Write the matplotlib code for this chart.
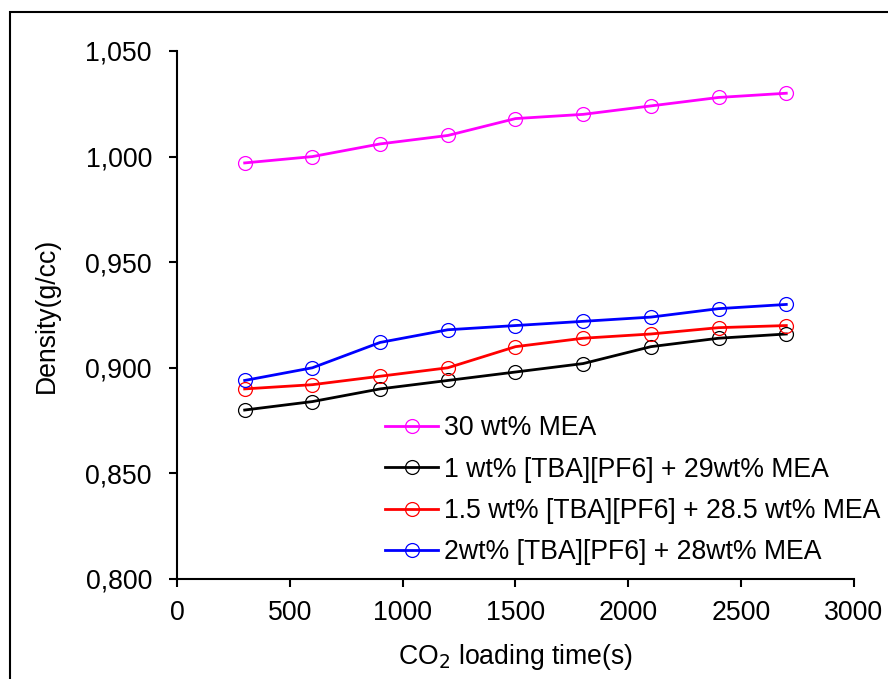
import matplotlib
matplotlib.use("Agg")
import matplotlib.pyplot as plt
from matplotlib.patches import Rectangle
from matplotlib.ticker import FuncFormatter, MultipleLocator

plt.rcParams["font.family"] = ["Liberation Sans", "DejaVu Sans"]

# ── Data ───────────────────────────────────────────────────────────────────────
loading_time = [300, 600, 900, 1200, 1500, 1800, 2100, 2400, 2700]

mea_30      = [0.997, 1.000, 1.006, 1.010, 1.018, 1.020, 1.024, 1.028, 1.030]
tba_1_mea   = [0.880, 0.884, 0.890, 0.894, 0.898, 0.902, 0.910, 0.914, 0.916]
tba_15_mea  = [0.890, 0.892, 0.896, 0.900, 0.910, 0.914, 0.916, 0.919, 0.920]
tba_2_mea   = [0.894, 0.900, 0.912, 0.918, 0.920, 0.922, 0.924, 0.928, 0.930]

series = [
    ("30 wt% MEA", mea_30, "#FF00FF"),
    ("1 wt% [TBA][PF6] + 29wt% MEA", tba_1_mea, "black"),
    ("1.5 wt% [TBA][PF6] + 28.5 wt% MEA", tba_15_mea, "red"),
    ("2wt% [TBA][PF6] + 28wt% MEA", tba_2_mea, "blue"),
]

FS = 19.2

# ── Figure ─────────────────────────────────────────────────────────────────────
fig = plt.figure(figsize=(8.88, 6.79), dpi=100)
ax = fig.add_axes([0.1993, 0.1473, 0.7624, 0.7776])

for label, values, color in series:
    ax.plot(loading_time, values, color=color, linewidth=2.0,
            marker="o", markersize=10, markerfacecolor="none",
            markeredgecolor=color, markeredgewidth=0.9, label=label)

ax.set_xlim(0, 3000)
ax.set_ylim(0.800, 1.050)
ax.xaxis.set_major_locator(MultipleLocator(500))
ax.yaxis.set_major_locator(MultipleLocator(0.05))
ax.yaxis.set_major_formatter(FuncFormatter(lambda v, _: f"{v:.3f}".replace(".", ",")))

for side in ("top", "right"):
    ax.spines[side].set_visible(False)
for side in ("left", "bottom"):
    ax.spines[side].set_linewidth(1.5)
ax.tick_params(axis="y", direction="out", length=6, width=1.5, labelsize=FS, pad=12)
ax.tick_params(axis="x", direction="out", length=6, width=1.5, labelsize=FS, pad=9)

ax.set_ylabel("Density(g/cc)", fontsize=FS, labelpad=18)
ax.set_xlabel("CO$_2$ loading time(s)", fontsize=FS, labelpad=12)

fig.legend(loc="center left", bbox_to_anchor=(0.4336, 0.2780),
           frameon=False, fontsize=FS, handlelength=2.0, handletextpad=0.2,
           labelspacing=0.58, borderpad=0, borderaxespad=0)

# outer frame around the chart area
fig.add_artist(Rectangle((0.0113, -0.5), 2.0, 1.4823, transform=fig.transFigure,
                         fill=False, edgecolor="black", linewidth=1.5, clip_on=False))

fig.savefig("out.png", dpi=100)
